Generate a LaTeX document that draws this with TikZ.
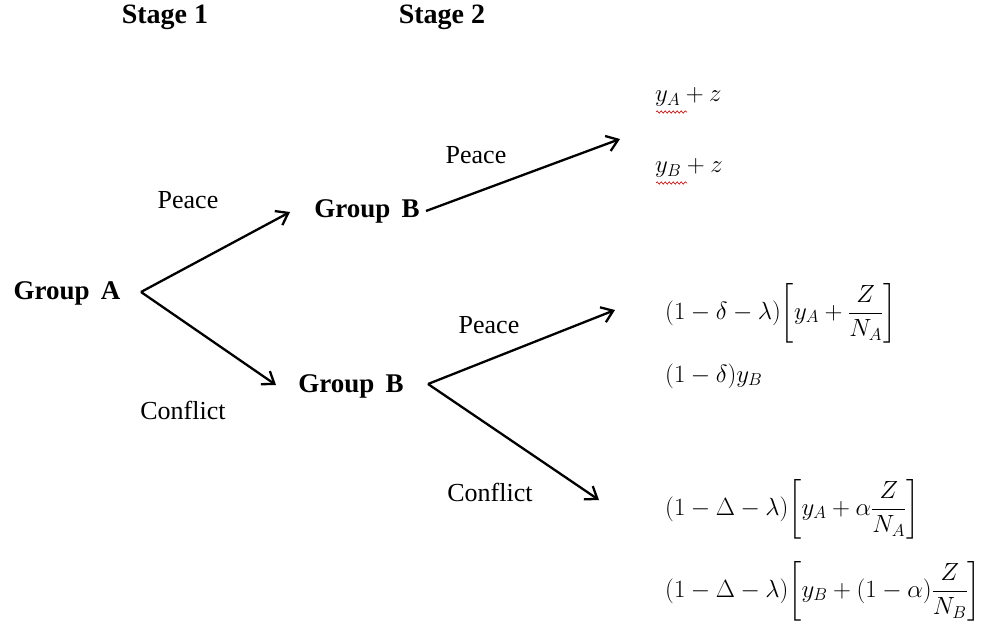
\documentclass[tikz,border=0pt]{standalone}
\usepackage{fontspec}
\setmainfont{Liberation Serif}
\usepackage{amsmath}
\usetikzlibrary{arrows.meta,decorations.pathmorphing}
\begin{document}
\begin{tikzpicture}[x=1pt,y=-1pt,
  lbl/.style={font=\fontsize{26}{30}\selectfont, inner sep=1pt},
  grp/.style={font=\fontsize{27}{31}\selectfont\bfseries, inner sep=2pt},
  stg/.style={font=\fontsize{28}{32}\selectfont\bfseries, inner sep=2pt},
  pay/.style={font=\fontsize{26}{30}\selectfont, inner sep=0pt, anchor=west},
  squig/.style={draw=red!80!black, line width=0.6pt, decorate, decoration={snake, amplitude=1.2pt, segment length=4pt}},
  arr/.style={-{Straight Barb[length=11pt,width=16pt,line width=2.3pt]}, line width=2.3pt}]
\useasboundingbox (0,0) rectangle (997,626);
\node[stg] (s1) at (165,17) {Stage 1};
\node[stg] (s2) at (442,17) {Stage 2};
\node[grp] (A) at (67,293) {Group\, A};
\node[grp] (B1) at (367,211) {Group\, B};
\node[grp] (B2) at (351,386) {Group\, B};
\coordinate (a0) at (141,292);
\coordinate (b1s) at (290,212);
\coordinate (b2s) at (276,385);
\coordinate (b1e) at (426,211);
\coordinate (b2e) at (428,384);
\coordinate (t1) at (620,139);
\coordinate (t2) at (615,310);
\coordinate (t3) at (599,500);
\draw[arr] (a0) -- (b1s);
\draw[arr] (a0) -- (b2s);
\draw[arr] (b1e) -- (t1);
\draw[arr] (b2e) -- (t2);
\draw[arr] (b2e) -- (t3);
\node[lbl] (p1) at (188,200) {Peace};
\node[lbl] (c1) at (183,410) {Conflict};
\node[lbl] (p2) at (476,155) {Peace};
\node[lbl] (p3) at (489,325) {Peace};
\node[lbl] (c2) at (490,492) {Conflict};
\node[pay] (r1) at (655,97) {$y_A+z$};
\node[pay] (r2) at (655,168) {$y_B+z$};
\coordinate (q1a) at (656,112);
\coordinate (q1b) at (687,112);
\coordinate (q2a) at (656,183);
\coordinate (q2b) at (687,183);
\draw[squig] (q1a) -- (q1b);
\draw[squig] (q2a) -- (q2b);
\node[pay] (r3) at (665,313) {$(1-\delta-\lambda)\biggl[y_A+\dfrac{Z}{N_A}\biggr]$};
\node[pay] (r4) at (665,376) {$(1-\delta)y_B$};
\node[pay] (r5) at (665,509) {$(1-\Delta-\lambda)\biggl[y_A+\alpha\dfrac{Z}{N_A}\biggr]$};
\node[pay] (r6) at (665,591) {$(1-\Delta-\lambda)\biggl[y_B+(1-\alpha)\dfrac{Z}{N_B}\biggr]$};
\end{tikzpicture}
\end{document}
